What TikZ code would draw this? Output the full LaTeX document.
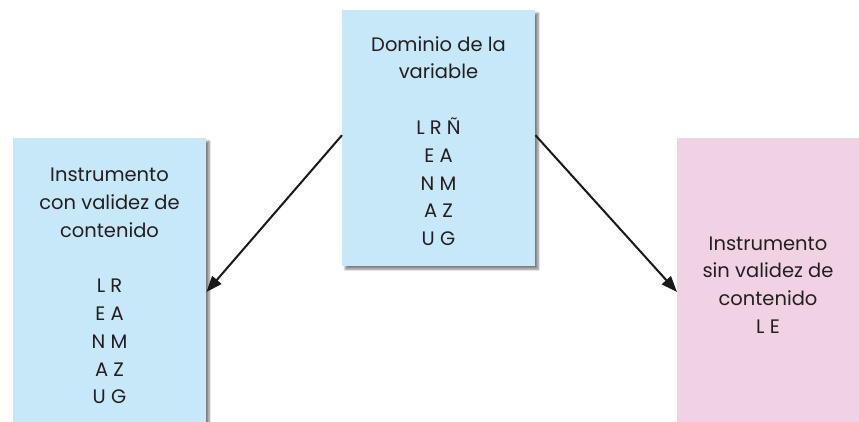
\documentclass[tikz,border=0pt]{standalone}
\usepackage{fontspec}
\setmainfont{Poppins}
\usetikzlibrary{arrows.meta,shadows.blur,calc}
\definecolor{boxblue}{HTML}{C7E8F8}
\definecolor{boxpink}{HTML}{F0D2E4}
\definecolor{txt}{HTML}{231F20}
\begin{document}
\begin{tikzpicture}[x=1pt,y=-1pt,
  panel/.style={rectangle,inner sep=0pt,draw=none,anchor=north west},
  shad/.style={blur shadow={shadow xshift=3pt,shadow yshift=-3pt,shadow blur steps=6,shadow opacity=50}},
  label/.style={align=center,text=txt,font=\fontsize{19.5}{27.8}\selectfont,inner sep=0pt},
  conn/.style={line width=2pt,-{Triangle[length=16pt,width=12pt]},draw=black!90}]
\useasboundingbox (0,0) rectangle (859,422);
\begin{scope}
\clip (0,0) rectangle (859,422);
\node[panel,fill=boxblue,shad,minimum width=193pt,minimum height=256pt] (c) at (342,10) {};
\node[panel,fill=boxblue,shad,minimum width=193pt,minimum height=300pt] (l) at (13,138) {};
\node[panel,fill=boxpink,minimum width=190pt,minimum height=300pt] (r) at (677,138) {};
\end{scope}
\node[label] (ct) at (438.5,141) {Dominio de la\\variable\\[27.8pt]L R Ñ\\E A\\N M\\A Z\\U G};
\node[label] (lt) at (109.5,286) {Instrumento\\con validez de\\contenido\\[27.8pt]L R\\E A\\N M\\A Z\\U G};
\node[label] (rt) at (768,285) {Instrumento\\sin validez de\\contenido\\L E};
\coordinate (cl) at ([yshift=3pt]c.west);
\coordinate (cr) at ([yshift=3pt]c.east);
\coordinate (le) at ([yshift=-154pt]l.north east);
\coordinate (re) at ([yshift=-154pt]r.north west);
\draw[conn] (cl) -- (le);
\draw[conn] (cr) -- (re);
\end{tikzpicture}
\end{document}
